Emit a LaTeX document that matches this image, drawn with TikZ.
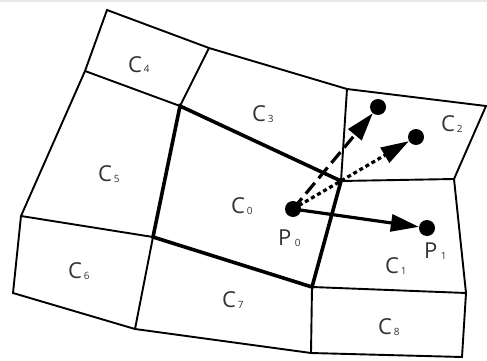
\documentclass[tikz,border=0pt]{standalone}
\usepackage{fontspec}
\setmainfont{Open Sans}
\usetikzlibrary{arrows.meta}
\begin{document}
\begin{tikzpicture}[x=1pt,y=-1pt,
  cell/.style={line width=1.9pt,line join=miter},
  hull/.style={line width=3.6pt,line join=miter},
  vec/.style={line width=3.2pt,-{Triangle[length=28pt,width=17pt]}},
  dot/.style={circle,fill=black,inner sep=0pt,minimum size=16pt},
  lab/.style={font=\fontsize{22}{22}\selectfont,text=black!80,inner sep=0pt},
  sub/.style={font=\fontsize{10}{10}\selectfont,text=black!80,inner sep=0pt}]
\useasboundingbox (0,0) rectangle (487,361);
\fill[black!9] (0,0) rectangle (487,2);
% mesh vertices
\coordinate (a) at (107,10);
\coordinate (b) at (209,48);
\coordinate (c) at (347,89);
\coordinate (d) at (486,106);
\coordinate (e) at (454,179);
\coordinate (f) at (466,293);
\coordinate (g) at (462,357);
\coordinate (h) at (311,353);
\coordinate (i) at (135,329);
\coordinate (j) at (13,293);
\coordinate (k) at (21,216);
\coordinate (l) at (85,71);
\coordinate (m) at (180,106);
\coordinate (n) at (341,181);
\coordinate (o) at (312,287);
\coordinate (q) at (153,237);
% outer boundary
\draw[cell] (a) -- (b) -- (c) -- (d) -- (e) -- (f) -- (g) -- (h) -- (i) -- (j) -- (k) -- (l) -- cycle;
% inner cell edges
\draw[cell] (l) -- (m) -- (b);
\draw[cell] (c) -- (n) -- (e);
\draw[cell] (k) -- (q) -- (i);
\draw[cell] (o) -- (h);
\draw[cell] (o) -- (f);
% central cell
\draw[hull] (m) -- (n) -- (o) -- (q) -- cycle;
% points
\node[dot] (p0) at (293,209) {};
\node[dot] (p1) at (427,228) {};
\node[dot] (r1) at (378,107) {};
\node[dot] (r2) at (416,137) {};
\draw[vec] (p0.center) -- (p1);
\draw[vec,dash pattern=on 14pt off 6pt] (p0.center) -- (r1);
\draw[vec,dash pattern=on 4pt off 3pt] (p0.center) -- (r2);
% cell labels
\newcommand{\cellname}[3]{\node[lab,anchor=base west] (#1) at (#2) {C};
  \node[sub,anchor=base west] at ([xshift=1.5pt,yshift=-1pt]#1.base east) {#3};}
\cellname{c0}{231,213}{0}
\cellname{c1}{385,273}{1}
\cellname{c2}{441,131}{2}
\cellname{c3}{252,121}{3}
\cellname{c4}{128,72}{4}
\cellname{c5}{98,181}{5}
\cellname{c6}{68,278}{6}
\cellname{c7}{222,307}{7}
\cellname{c8}{378,334}{8}
\node[lab,anchor=base west] (pz) at (278,245) {P};
\node[sub,anchor=base west] at ([xshift=3pt,yshift=-1pt]pz.base east) {0};
\node[lab,anchor=base west] (po) at (424,258) {P};
\node[sub,anchor=base west] at ([xshift=3pt,yshift=-1pt]po.base east) {1};
\end{tikzpicture}
\end{document}
